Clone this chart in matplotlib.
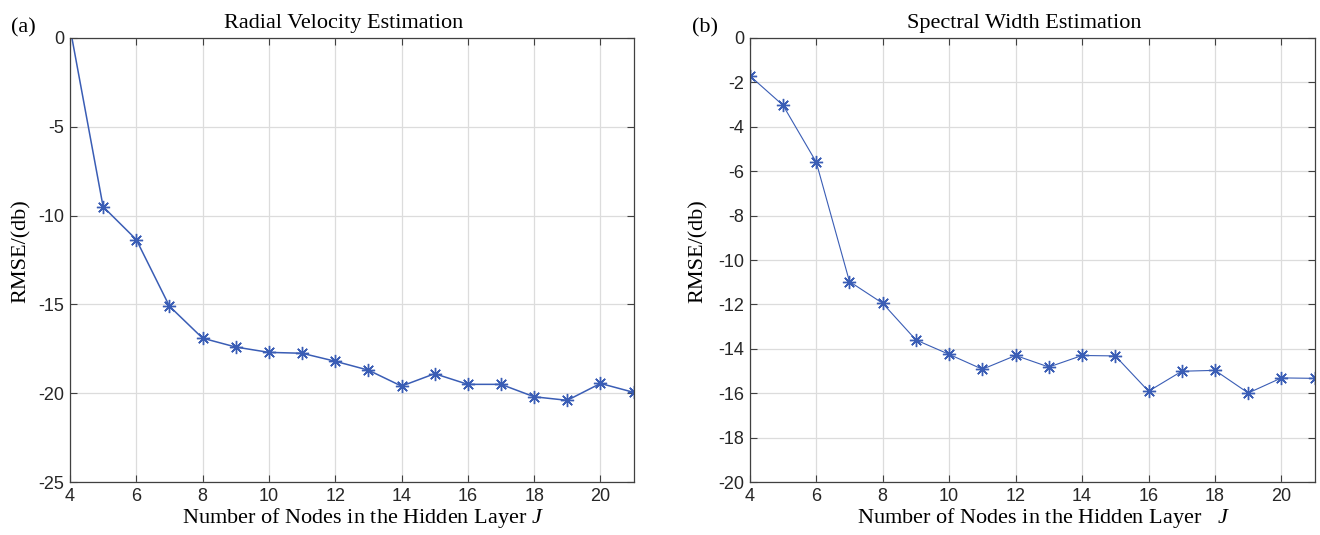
import matplotlib
matplotlib.use("Agg")
import matplotlib.pyplot as plt

plt.rcParams["axes.unicode_minus"] = False
plt.rcParams["mathtext.fontset"] = "custom"
plt.rcParams["mathtext.it"] = "Liberation Serif:italic"
plt.rcParams["mathtext.rm"] = "Liberation Serif"

nodes = [4, 5, 6, 7, 8, 9, 10, 11, 12, 13, 14, 15, 16, 17, 18, 19, 20, 21]
rmse_velocity = [0.6, -9.5, -11.35, -15.1, -16.9, -17.4, -17.7, -17.75, -18.2, -18.7,
                 -19.6, -18.9, -19.5, -19.5, -20.2, -20.4, -19.45, -19.95]
rmse_width = [-1.7, -3.03, -5.59, -10.97, -11.95, -13.6, -14.25, -14.92, -14.3, -14.82,
              -14.3, -14.32, -15.91, -15.01, -14.97, -15.99, -15.31, -15.33]
xticks = [4, 6, 8, 10, 12, 14, 16, 18, 20]
titles = ["Radial Velocity Estimation", "Spectral Width Estimation"]
panel_labels = ["(a)", "(b)"]

serif = "Liberation Serif"
sans = "Liberation Sans"
line_color = "#3a5db5"

fig = plt.figure(figsize=(13.2, 5.35), dpi=100)
ax1 = fig.add_axes([0.053, 0.099, 0.427, 0.830])
ax2 = fig.add_axes([0.568, 0.099, 0.428, 0.830])

configs = [
    (ax1, rmse_velocity, (-25, 0), list(range(-25, 1, 5)), 1.1, "$J$", -0.07),
    (ax2, rmse_width, (-20, 0), list(range(-20, 1, 2)), 0.8, "  $J$", -0.075),
]

for i, (ax, vals, ylim, yt, lw, jtxt, ylx) in enumerate(configs):
    ax.plot(nodes, vals, color=line_color, lw=lw, marker=(8, 2, 0), ms=9.5,
            mew=1.0, mec=line_color)
    ax.set_xlim(4, 21)
    ax.set_ylim(*ylim)
    ax.set_xticks(xticks)
    ax.set_yticks(yt)
    ax.grid(True, color="#dcdcdc", lw=0.9)
    ax.set_axisbelow(True)
    ax.tick_params(direction="in", top=True, right=True, length=5,
                   color="#404040", labelsize=13, pad=4)
    for lab in ax.get_xticklabels() + ax.get_yticklabels():
        lab.set_fontfamily(sans)
        lab.set_color("#262626")
    for sp in ax.spines.values():
        sp.set_color("#404040")
        sp.set_linewidth(0.9)
    ax.set_title(titles[i], fontfamily=serif, fontsize=16, pad=7, x=0.485)
    ax.set_xlabel("Number of Nodes in the Hidden Layer " + jtxt, fontfamily=serif,
                  fontsize=16, labelpad=1)
    ax.xaxis.set_label_coords(0.52, -0.055)
    ax.set_ylabel("RMSE/(db)", fontfamily=serif, fontsize=16, labelpad=3)
    ax.yaxis.set_label_coords(ylx, 0.52)

fig.text(0.008, 0.948, panel_labels[0], fontfamily=serif, fontsize=16, va="center")
fig.text(0.524, 0.948, panel_labels[1], fontfamily=serif, fontsize=16, va="center")

fig.savefig("out.png", dpi=100)
